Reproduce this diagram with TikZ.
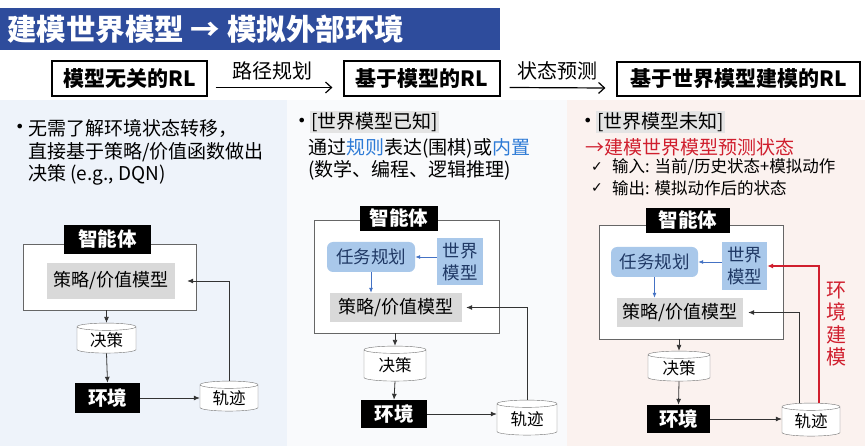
\documentclass[tikz,border=0pt]{standalone}
\usepackage{fontspec}
\setmainfont{Noto Sans CJK SC}
\newfontfamily\symfont{DejaVu Sans}
\usetikzlibrary{shapes.geometric,arrows.meta,calc}
\definecolor{banner}{HTML}{2E4C9C}
\definecolor{panelL}{HTML}{EEF3FA}
\definecolor{panelM}{HTML}{F9FAFC}
\definecolor{panelR}{HTML}{FBF2EF}
\definecolor{bluebox}{HTML}{A9C8EA}
\definecolor{bluetxt}{HTML}{1F3864}
\definecolor{bluearrow}{HTML}{4472C4}
\definecolor{redc}{HTML}{D01F2E}
\definecolor{linkc}{HTML}{2E7BD6}
\definecolor{stratgray}{HTML}{D9D9D9}
\definecolor{hlgray}{HTML}{E4E4E4}
\newcommand{\fs}[1]{\fontsize{#1}{#1}\selectfont}
\tikzset{
  headbox/.style={draw=black, line width=1.2pt, fill=white, font=\fs{21}\bfseries, inner sep=0pt},
  blackbox/.style={fill=black, text=white, font=\fs{19.5}\bfseries, inner sep=0pt},
  agentrect/.style={draw=black!60, line width=0.8pt, fill=white, inner sep=0pt},
  stratbox/.style={fill=stratgray, font=\fs{18}, inner sep=0pt},
  taskbox/.style={fill=bluebox, rounded corners=6pt, text=bluetxt, font=\fs{17.5}, inner sep=0pt},
  wmbox/.style={fill=bluebox, text=bluetxt, font=\fontsize{17.5}{22}\selectfont, align=center, inner sep=0pt},
  cyl/.style={cylinder, shape border rotate=90, aspect=0.22, draw=black!55, fill=white, font=\fs{16.5}, inner sep=0pt},
  conn/.style={draw=black!80, line width=0.8pt, -{Latex[length=6pt,width=5pt]}},
  bconn/.style={draw=bluearrow, line width=0.8pt, -{Latex[length=5pt,width=4pt]}},
  rconn/.style={draw=redc, line width=1.1pt, -{Latex[length=6pt,width=5pt]}},
  topconn/.style={draw=black, line width=1.2pt, -{Straight Barb[length=6pt,width=11pt]}},
  bodytxt/.style={anchor=west, font=\fs{19}, inner sep=0pt},
  bulltxt/.style={anchor=west, font=\symfont\fs{16}, inner sep=0pt},
  smalltxt/.style={anchor=west, font=\fs{16.5}, inner sep=0pt},
  arrlbl/.style={font=\fs{20}, inner sep=0pt}
}
\begin{document}
\begin{tikzpicture}[x=1pt,y=-1pt]
\useasboundingbox (0,0) rectangle (865,446);
\fill[white] (0,0) rectangle (865,446);
% panels
\fill[panelL] (0,100) rectangle (287,446);
\fill[panelM] (287,100) rectangle (567,446);
\fill[panelR] (567,100) rectangle (865,446);
% banner
\fill[banner] (0,8) rectangle (500,50);
\node[anchor=west, text=white, font=\fs{29.5}\bfseries, inner sep=0pt] (title) at (7,29) {建模世界模型 → 模拟外部环境};
% top row
\node[headbox, minimum width=155pt, minimum height=35pt] (b1) at (129.5,78.5) {模型无关的RL};
\node[headbox, minimum width=156pt, minimum height=35pt] (b2) at (422,78.5) {基于模型的RL};
\node[headbox, minimum width=243pt, minimum height=34pt] (b3) at (738.5,79) {基于世界模型建模的RL};
\draw[topconn] ([xshift=8pt,yshift=-9pt]b1.east) -- ([xshift=-11pt,yshift=-9pt]b2.west);
\draw[topconn] ([xshift=9pt,yshift=-9pt]b2.east) -- ([xshift=-11pt,yshift=-9pt]b3.west);
\node[arrlbl] (l1) at (272,71) {路径规划};
\node[arrlbl] (l2) at (557,71) {状态预测};

% ===== left panel =====
\node[bulltxt] (bulL) at (15,128) {•};
\node[bodytxt] (tL1) at (28,128) {无需了解环境状态转移，};
\node[bodytxt] (tL2) at (28,152) {直接基于策略/价值函数做出};
\node[bodytxt] (tL3) at (28,175) {决策 (e.g., DQN)};
\node[agentrect, minimum width=173pt, minimum height=66pt] (arL) at (109.5,277) {};
\node[blackbox, minimum width=87pt, minimum height=29pt] (agL) at (107.5,239.5) {智能体};
\node[stratbox, minimum width=128pt, minimum height=36pt] (stL) at (111,281) {策略/价值模型};
\node[cyl, minimum width=59pt, minimum height=30pt] (deL) at (106.5,340) {决策};
\node[blackbox, minimum width=65pt, minimum height=30pt] (enL) at (107.5,398) {环境};
\node[cyl, minimum width=58pt, minimum height=30pt] (trL) at (229,398) {轨迹};
\draw[conn] (arL.south -| deL.north) -- (deL.north);
\draw[conn] (deL.south) -- (enL.north);
\draw[conn] (enL.east) -- (enL.east -| trL.west);
\draw[conn] (trL.north) |- ([xshift=12pt]stL.east);

% ===== middle panel =====
\node[bulltxt] (bulM) at (297,122) {•};
\node[bodytxt, fill=hlgray, inner sep=1pt] (hM) at (310,122) {[世界模型已知]};
\node[bodytxt] (tM1) at (308,148) {通过\textcolor{linkc}{规则}表达(围棋)或\textcolor{linkc}{内置}};
\node[bodytxt] (tM2) at (308,170) {(数学、编程、逻辑推理)};
\node[agentrect, minimum width=185pt, minimum height=113pt] (arM) at (406.5,276.5) {};
\node[blackbox, minimum width=78pt, minimum height=25pt] (agM) at (399,218.5) {智能体};
\node[taskbox, minimum width=88pt, minimum height=30pt] (tpM) at (371,257) {任务规划};
\node[wmbox, minimum width=46pt, minimum height=47pt] (wmM) at (460,261.5) {世界\\模型};
\node[stratbox, minimum width=132pt, minimum height=29pt] (stM) at (396,307.5) {策略/价值模型};
\node[cyl, minimum width=62pt, minimum height=35pt] (deM) at (395,365.5) {决策};
\node[blackbox, minimum width=66pt, minimum height=28pt] (enM) at (394,414) {环境};
\node[cyl, minimum width=60pt, minimum height=35pt] (trM) at (527,419.5) {轨迹};
\draw[bconn] (wmM.west |- tpM.east) -- (tpM.east);
\draw[bconn] (tpM.south) -- (tpM.south |- stM.north);
\draw[conn] (arM.south -| deM.north) -- (deM.north);
\draw[conn] (deM.south) -- (enM.north);
\draw[conn] (enM.east) -- (enM.east -| trM.west);
\draw[conn] (trM.north) |- ([xshift=4pt]stM.east);

% ===== right panel =====
\node[bulltxt] (bulR) at (583,122) {•};
\node[bodytxt, fill=hlgray, inner sep=1pt] (hR) at (596,122) {[世界模型未知]};
\node[bodytxt, text=redc] (tR1) at (585,147) {→建模世界模型预测状态};
\node[smalltxt, font=\symfont\fs{14}] (ck1) at (591,167) {✓};
\node[smalltxt] (tR2) at (612,167) {输入: 当前/历史状态+模拟动作};
\node[smalltxt, font=\symfont\fs{14}] (ck2) at (591,188) {✓};
\node[smalltxt] (tR3) at (612,188) {输出: 模拟动作后的状态};
\node[agentrect, minimum width=184pt, minimum height=114pt] (arR) at (691,282) {};
\node[blackbox, minimum width=84pt, minimum height=25pt] (agR) at (688,220.5) {智能体};
\node[taskbox, minimum width=87pt, minimum height=30pt] (tpR) at (654.5,262) {任务规划};
\node[wmbox, minimum width=45pt, minimum height=48pt] (wmR) at (744.5,266) {世界\\模型};
\node[stratbox, minimum width=126pt, minimum height=29pt] (stR) at (680,312.5) {策略/价值模型};
\node[cyl, minimum width=62pt, minimum height=30pt] (deR) at (679,368) {决策};
\node[blackbox, minimum width=63pt, minimum height=28pt] (enR) at (678.5,419) {环境};
\node[cyl, minimum width=58pt, minimum height=33pt] (trR) at (811,421.5) {轨迹};
\draw[bconn] (wmR.west |- tpR.east) -- (tpR.east);
\draw[bconn] (tpR.south) -- (tpR.south |- stR.north);
\draw[conn] (arR.south -| deR.north) -- (deR.north);
\draw[conn] (deR.south) -- (enR.north);
\draw[conn] (enR.east) -- (enR.east -| trR.west);
\draw[conn] ([xshift=-12pt]trR.north) |- ([xshift=5pt]stR.east);
\draw[rconn] ([xshift=8pt]trR.north) |- (wmR.east);
\node[text=redc, font=\fontsize{20}{22.5}\selectfont, align=center, inner sep=0pt] (envmod) at (836,324) {环\\境\\建\\模};
\end{tikzpicture}
\end{document}
